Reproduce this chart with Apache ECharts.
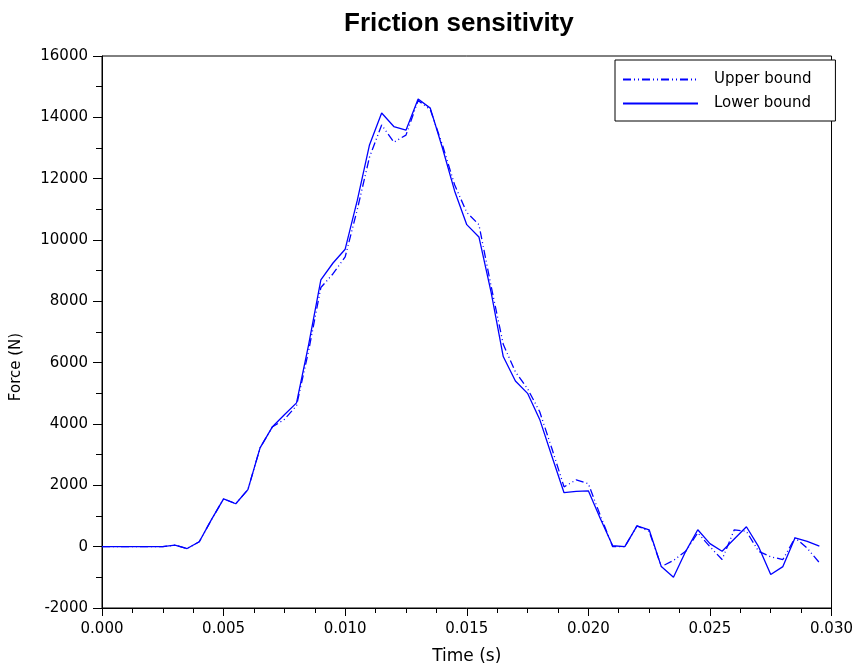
<!DOCTYPE html>
<html>
<head>
<meta charset="utf-8">
<style>
  html, body { margin: 0; padding: 0; background: #ffffff; }
  #chart { width: 856px; height: 670px; }
</style>
<script src="https://cdn.jsdelivr.net/npm/echarts@6/dist/echarts.min.js"></script>
</head>
<body>
<div id="chart"></div>
<script>
// Sample times (s)
const times = [
  0.0000, 0.0005, 0.0010, 0.0015, 0.0020, 0.0025, 0.0030, 0.0035, 0.0040, 0.0045,
  0.0050, 0.0055, 0.0060, 0.0065, 0.0070, 0.0075, 0.0080, 0.0085, 0.0090, 0.0095,
  0.0100, 0.0105, 0.0110, 0.0115, 0.0120, 0.0125, 0.0130, 0.0135, 0.0140, 0.0145,
  0.0150, 0.0155, 0.0160, 0.0165, 0.0170, 0.0175, 0.0180, 0.0185, 0.0190, 0.0195,
  0.0200, 0.0205, 0.0210, 0.0215, 0.0220, 0.0225, 0.0230, 0.0235, 0.0240, 0.0245,
  0.0250, 0.0255, 0.0260, 0.0265, 0.0270, 0.0275, 0.0280, 0.0285, 0.0290, 0.0295
];

// Force (N), upper friction bound
const upperBound = [
  0, 0, 0, 0, 0, 0, 50, -60, 160, 880,
  1560, 1400, 1860, 3220, 3900, 4150, 4600, 6400, 8450, 8900,
  9450, 11000, 12700, 13750, 13190, 13420, 14550, 14250, 13100, 11800,
  10900, 10500, 8500, 6600, 5700, 5150, 4400, 3200, 1950, 2180,
  2050, 1000, 0, 0, 680, 500, -650, -450, -150, 450,
  0, -420, 550, 500, -150, -330, -420, 290, -50, -520
];

// Force (N), lower friction bound
const lowerBound = [
  0, 0, 0, 0, 0, 0, 50, -60, 160, 880,
  1560, 1400, 1860, 3220, 3900, 4300, 4690, 6600, 8700, 9250,
  9700, 11300, 13100, 14140, 13700, 13580, 14600, 14300, 13000, 11600,
  10500, 10100, 8300, 6200, 5400, 5000, 4150, 2950, 1760, 1800,
  1820, 900, 30, 0, 680, 550, -650, -1000, -160, 550,
  100, -150, 250, 650, 0, -910, -650, 290, 170, 20
];

const seriesNames = ['Upper bound', 'Lower bound'];

const pairs = (ys) => times.map((t, i) => [t, ys[i]]);

const FONT = 'DejaVu Sans';
const BLUE = '#0000ff';

const chart = echarts.init(document.getElementById('chart'), null, { renderer: 'canvas' });

chart.setOption({
  animation: false,
  backgroundColor: '#ffffff',
  title: {
    text: 'Friction sensitivity',
    left: 339,
    top: 6,
    textStyle: { fontFamily: 'Liberation Sans', fontSize: 26, fontWeight: 'bold', color: '#000' }
  },
  legend: {
    orient: 'vertical',
    left: 615,
    top: 60,
    padding: [12, 24, 10, 7],
    itemGap: 9,
    itemWidth: 75,
    itemHeight: 14,
    backgroundColor: '#ffffff',
    borderColor: '#000000',
    borderWidth: 1,
    borderRadius: 0,
    data: seriesNames,
    // legend keys show only the line pattern, no marker
    itemStyle: { opacity: 0, color: 'transparent', borderWidth: 0 },
    textStyle: { fontFamily: FONT, fontSize: 15, color: '#000', padding: [0, 0, 0, 11] }
  },
  grid: {
    left: 102,
    right: 20,
    top: 56,
    bottom: 61,
    show: true,
    borderColor: '#000000',
    borderWidth: 1,
    backgroundColor: '#ffffff'
  },
  xAxis: {
    type: 'value',
    min: 0,
    max: 0.03,
    interval: 0.005,
    name: 'Time (s)',
    nameLocation: 'middle',
    nameGap: 40,
    nameTextStyle: { fontFamily: FONT, fontSize: 17, color: '#000' },
    axisLine: { onZero: false, lineStyle: { color: '#000', width: 1 } },
    axisTick: { show: true, length: 8, lineStyle: { color: '#000' } },
    minorTick: { show: true, splitNumber: 4, length: 5, lineStyle: { color: '#000' } },
    splitLine: { show: false },
    axisLabel: {
      margin: 14,
      fontFamily: FONT,
      fontSize: 15,
      color: '#000',
      formatter: (v) => v.toFixed(3)
    }
  },
  yAxis: {
    type: 'value',
    min: -2000,
    max: 16000,
    interval: 2000,
    name: 'Force (N)',
    nameLocation: 'middle',
    nameRotate: 90,
    nameGap: 78,
    nameTextStyle: { fontFamily: FONT, fontSize: 15, color: '#000', padding: [0, 70, 0, 0] },
    axisLine: { onZero: false, lineStyle: { color: '#000', width: 1 } },
    axisTick: { show: true, length: 9, lineStyle: { color: '#000' } },
    minorTick: { show: true, splitNumber: 2, length: 6, lineStyle: { color: '#000' } },
    splitLine: { show: false },
    axisLabel: {
      margin: 14,
      fontFamily: FONT,
      fontSize: 15,
      color: '#000',
      formatter: (v) => String(v)
    }
  },
  series: [
    {
      name: seriesNames[0],
      type: 'line',
      data: pairs(upperBound),
      showSymbol: false,
      symbol: 'none',
      lineStyle: { color: BLUE, width: 1.3, type: [8, 3, 1, 3, 1, 3] },
      itemStyle: { color: BLUE }
    },
    {
      name: seriesNames[1],
      type: 'line',
      data: pairs(lowerBound),
      showSymbol: false,
      symbol: 'none',
      lineStyle: { color: BLUE, width: 1.3, type: 'solid' },
      itemStyle: { color: BLUE }
    }
  ]
});
</script>
</body>
</html>
